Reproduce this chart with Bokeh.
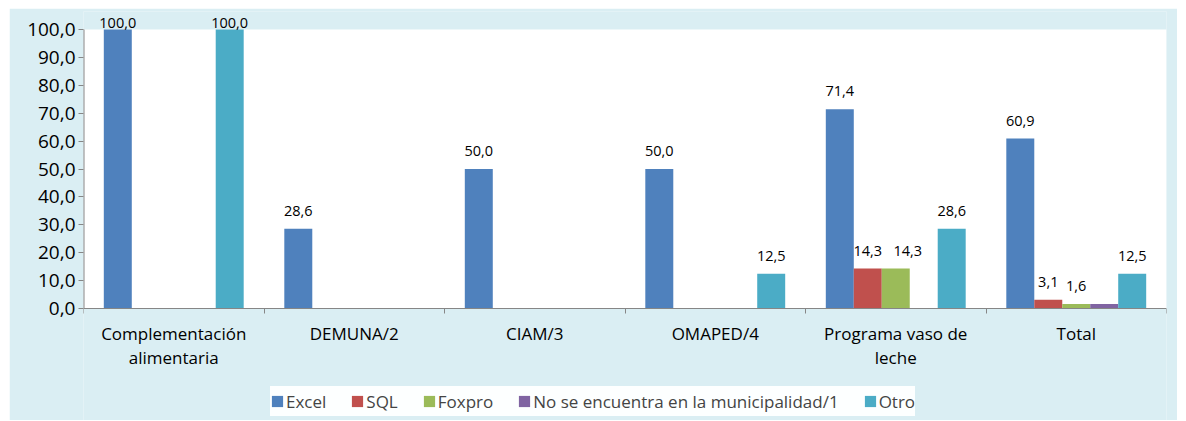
from bokeh.plotting import figure
from bokeh.models import (Range1d, FixedTicker, ColumnDataSource, LabelSet, Legend, LegendItem)
from bokeh.embed import file_html
from bokeh.resources import INLINE
from bokeh.core.properties import value

categories = ["Complementación\nalimentaria", "DEMUNA/2", "CIAM/3", "OMAPED/4",
              "Programa vaso de\nleche", "Total"]
series_names = ["Excel", "SQL", "Foxpro", "No se encuentra en la municipalidad/1", "Otro"]
excel = [100.0, 28.6, 50.0, 50.0, 71.4, 60.9]
sql = [0.0, 0.0, 0.0, 0.0, 14.3, 3.1]
foxpro = [0.0, 0.0, 0.0, 0.0, 14.3, 1.6]
no_se = [0.0, 0.0, 0.0, 0.0, 0.0, 1.6]
otro = [100.0, 0.0, 0.0, 12.5, 28.6, 12.5]
y_ticks = [0, 10, 20, 30, 40, 50, 60, 70, 80, 90, 100]

series = [excel, sql, foxpro, no_se, otro]
colors = ["#4F81BD", "#C0504D", "#9BBB59", "#8064A2", "#4BACC6"]
show_labels = [True, True, True, False, True]
FONT = "Open Sans"
BG = "#DAEEF3"
AXIS = "#868686"

# layout in pixels: value axis 0..100 spans 279 px; 297 px above zero, 112 px below
y_max = y_ticks[-1]
PX = 279 / y_max
p = figure(width=1168, height=412, output_backend="svg", toolbar_location=None,
           x_range=Range1d(0, len(categories)), y_range=Range1d(-112 / PX, 297 / PX),
           min_border_left=74, min_border_right=11, min_border_top=3, min_border_bottom=0)
p.margin = (8, 0, 0, 9)
p.background_fill_color = BG
p.border_fill_color = BG
p.outline_line_color = None
p.xgrid.visible = False
p.ygrid.visible = False

# white plotting area up to the axis maximum, with its value-axis line on the left
p.quad(left=[0], right=[len(categories)], bottom=[0], top=[y_max],
       fill_color="white", line_color=None)
p.segment(x0=[0], y0=[0], x1=[0], y1=[y_max], line_color=AXIS, line_width=2)

bw = 0.155
offsets = [-2 * bw, -bw, 0, bw, 2 * bw]
items = []
prev_vals = None
for vals, col, name, off, lab in zip(series, colors, series_names, offsets, show_labels):
    xs = [i + 0.5 + off for i in range(len(categories))]
    # nudge a label right when the label just left of it sits at about the same height
    xo = [12 if (prev_vals is not None and prev_vals[i] >= 10 and vals[i] >= 10
                 and abs(prev_vals[i] - vals[i]) < 5) else 0
          for i in range(len(vals))]
    src = ColumnDataSource(dict(x=xs, top=vals,
                                txt=[("%.1f" % v).replace(".", ",") if v > 0 else "" for v in vals],
                                yo=[2 if v >= y_max else 13 for v in vals], xo=xo))
    r = p.vbar(x="x", top="top", width=bw, bottom=0, color=col, line_color=None, source=src)
    items.append(LegendItem(label=name, renderers=[r]))
    if lab:
        ls = LabelSet(x="x", y="top", text="txt", source=src, y_offset="yo", x_offset="xo",
                      text_align="center", text_baseline="alphabetic",
                      text_font=value(FONT), text_font_size="14.5px", text_color="#000000")
        p.add_layout(ls)
    prev_vals = vals

# axes
p.xaxis.fixed_location = 0
p.xaxis.ticker = FixedTicker(ticks=[i + 0.5 for i in range(len(categories))],
                             minor_ticks=list(range(len(categories) + 1)))
p.xaxis.major_label_overrides = {i + 0.5: c for i, c in enumerate(categories)}
p.xaxis.major_tick_out = 0
p.xaxis.major_tick_in = 0
p.xaxis.minor_tick_out = 5
p.xaxis.minor_tick_in = 0
p.xaxis.minor_tick_line_color = AXIS
p.xaxis.axis_line_color = AXIS
p.xaxis.major_label_text_font = FONT
p.xaxis.major_label_text_font_size = "17px"
p.xaxis.major_label_text_line_height = 1.05
p.xaxis.major_label_text_color = "#000000"
p.xaxis.major_label_standoff = 8

p.yaxis.ticker = FixedTicker(ticks=y_ticks)
p.yaxis.bounds = (0, y_max)
p.yaxis.major_label_overrides = {t: ("%.1f" % t).replace(".", ",") for t in y_ticks}
p.yaxis.minor_tick_line_color = None
p.yaxis.major_tick_out = 5
p.yaxis.major_tick_in = 0
p.yaxis.major_tick_line_color = AXIS
p.yaxis.axis_line_color = None
p.yaxis.major_label_text_font = FONT
p.yaxis.major_label_text_font_size = "19px"
p.yaxis.major_label_text_color = "#000000"
p.yaxis.major_label_standoff = 3

legend = Legend(items=items, orientation="horizontal", location=(187, 4),
                background_fill_color="white", border_line_color=None,
                label_text_font=FONT, label_text_font_size="17px",
                glyph_width=14, glyph_height=14, label_height=30, label_standoff=2,
                spacing=24, padding=13, margin=0)
p.add_layout(legend, "center")

open("out.html", "w").write(file_html(p, INLINE))
